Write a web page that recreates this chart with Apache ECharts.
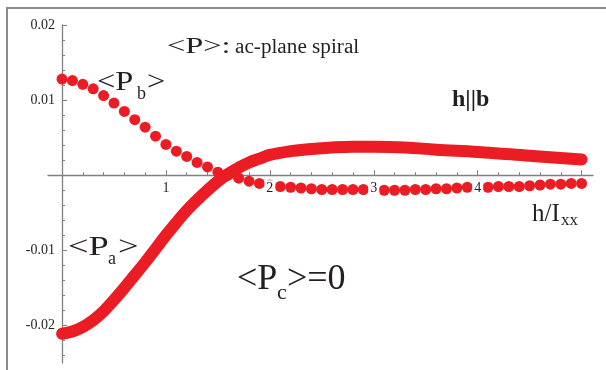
<!DOCTYPE html>
<html>
<head>
<meta charset="utf-8">
<script src="https://cdn.jsdelivr.net/npm/echarts@6/dist/echarts.min.js"></script>
<style>
  html, body { margin: 0; padding: 0; background: #fff; }
  #chart { width: 606px; height: 370px; }
</style>
</head>
<body>
<div id="chart"></div>
<script>
// <P_b> : points (pas de 0.1)
const pbX = [0, 0.1, 0.2, 0.3, 0.4, 0.5, 0.6, 0.7, 0.8, 0.9,
             1.0, 1.1, 1.2, 1.3, 1.4, 1.5, 1.6, 1.7, 1.8, 1.9,
             2.0, 2.1, 2.2, 2.3, 2.4, 2.5, 2.6, 2.7, 2.8, 2.9,
             3.0, 3.1, 3.2, 3.3, 3.4, 3.5, 3.6, 3.7, 3.8, 3.9,
             4.0, 4.1, 4.2, 4.3, 4.4, 4.5, 4.6, 4.7, 4.8, 4.9, 5.0];
const pbY = [0.0128, 0.0126, 0.0121, 0.0115, 0.0106, 0.0096, 0.0085, 0.0074, 0.0064, 0.0052,
             0.0041, 0.0032, 0.0025, 0.0017, 0.0011, 0.0004, 0.0000, -0.0004, -0.0008, -0.0011,
             -0.0013, -0.0015, -0.0016, -0.0017, -0.0018, -0.0019, -0.0019, -0.0019, -0.0019, -0.0019,
             -0.0020, -0.0020, -0.0020, -0.0020, -0.0019, -0.0019, -0.0018, -0.0018, -0.0017, -0.0016,
             -0.0016, -0.0016, -0.0015, -0.0015, -0.0015, -0.0014, -0.0013, -0.0012, -0.0012, -0.0011, -0.0011];

// <P_a> : courbe épaisse
const paX = [0, 0.1, 0.2, 0.3, 0.4, 0.5, 0.6, 0.7, 0.8, 0.9,
             1.0, 1.1, 1.2, 1.3, 1.4, 1.5, 1.6, 1.7, 1.8, 1.9,
             2.0, 2.2, 2.4, 2.6, 2.8, 3.0, 3.3, 3.6, 4.0, 4.5, 5.0];
const paY = [-0.0211, -0.0208, -0.0202, -0.0193, -0.0181, -0.0166, -0.0150, -0.0133, -0.0116, -0.0098,
             -0.0080, -0.0063, -0.0047, -0.0033, -0.0020, -0.0008, 0.0002, 0.0010, 0.0017, 0.0022,
             0.0027, 0.0032, 0.0035, 0.0037, 0.0038, 0.0038, 0.0037, 0.0034, 0.0031, 0.0026, 0.0021];

// graduations
const xMajor = [0, 1, 2, 3, 4, 5];
const xMinor = [0.2, 0.4, 0.6, 0.8, 1.2, 1.4, 1.6, 1.8, 2.2, 2.4, 2.6, 2.8,
                3.2, 3.4, 3.6, 3.8, 4.2, 4.4, 4.6, 4.8];
const xLabels = [1, 2, 3, 4];
const yLabels = [-0.02, -0.01, 0.01, 0.02];
const yMinor = [-0.024, -0.022, -0.018, -0.016, -0.014, -0.012, -0.008, -0.006, -0.004, -0.002,
                0.002, 0.004, 0.006, 0.008, 0.012, 0.014, 0.016, 0.018];

const RED = '#ec1c24';
const AXIS = '#808080';
const SERIF = '"Liberation Serif", "Times New Roman", serif';
const INK = '#231f20';

const X_MIN = -0.135, X_MAX = 5.11, Y_MIN = -0.025, Y_MAX = 0.02;
const G = { left: 48, right: 13, top: 25, bottom: 7 };
const W = 606, H = 370;
// décalage des axes d'étiquettes pour les ramener sur les axes à zéro
const zeroFromLeft = (0 - X_MIN) / (X_MAX - X_MIN) * (W - G.left - G.right);
const zeroFromBottom = (0 - Y_MIN) / (Y_MAX - Y_MIN) * (H - G.top - G.bottom);

const chart = echarts.init(document.getElementById('chart'), null, { renderer: 'canvas' });

function txt(text, x, y, size, opts) {
  opts = opts || {};
  return {
    type: 'text', x: x, y: y, z: 50,
    scaleX: opts.sx || 1,
    style: {
      text: text,
      font: (opts.bold ? 'bold ' : '') + size + 'px ' + SERIF,
      fill: INK,
      align: 'left',
      verticalAlign: 'middle'
    }
  };
}

const baseX = { type: 'value', min: X_MIN, max: X_MAX, position: 'bottom', splitLine: { show: false } };
const baseY = { type: 'value', min: Y_MIN, max: Y_MAX, position: 'left', splitLine: { show: false } };

const option = {
  animation: false,
  backgroundColor: '#fff',
  grid: Object.assign({ containLabel: false, outerBoundsMode: 'none' }, G),
  xAxis: [
    Object.assign({}, baseX, {
      axisLine: { onZero: true, onZeroAxisIndex: 0, lineStyle: { color: AXIS, width: 1.3 } },
      axisTick: { inside: true, length: 5, customValues: xMajor, lineStyle: { color: AXIS } },
      axisLabel: { show: false }
    }),
    Object.assign({}, baseX, {
      axisLine: { show: false, onZero: true, onZeroAxisIndex: 0 },
      axisTick: { inside: true, length: 3, customValues: xMinor, lineStyle: { color: AXIS } },
      axisLabel: { show: false }
    }),
    Object.assign({}, baseX, {
      z: 10,
      offset: -zeroFromBottom,
      axisLine: { show: false, onZero: false },
      axisTick: { show: false },
      axisLabel: {
        customValues: xLabels, margin: 5, fontSize: 14, fontFamily: SERIF, color: INK,
        backgroundColor: '#fff', padding: [1, 2, 3, 2]
      }
    })
  ],
  yAxis: [
    Object.assign({}, baseY, {
      axisLine: { onZero: true, onZeroAxisIndex: 0, lineStyle: { color: AXIS, width: 1.3 } },
      axisTick: { inside: true, length: 5, customValues: yLabels, lineStyle: { color: AXIS } },
      axisLabel: { show: false }
    }),
    Object.assign({}, baseY, {
      axisLine: { show: false, onZero: true, onZeroAxisIndex: 0 },
      axisTick: { inside: true, length: 3, customValues: yMinor, lineStyle: { color: AXIS } },
      axisLabel: { show: false }
    }),
    Object.assign({}, baseY, {
      offset: -zeroFromLeft,
      axisLine: { show: false, onZero: false },
      axisTick: { show: false },
      axisLabel: {
        customValues: yLabels, margin: 7, fontSize: 14, fontFamily: SERIF, color: INK,
        formatter: v => v.toFixed(2)
      }
    })
  ],
  series: [
    {
      name: '<Pa>', type: 'line', xAxisIndex: 0, yAxisIndex: 0,
      data: paX.map((x, i) => [x, paY[i]]),
      smooth: 0.4, showSymbol: false, z: 3,
      lineStyle: { color: RED, width: 12, cap: 'round', join: 'round' }
    },
    {
      name: '<Pb>', type: 'scatter', xAxisIndex: 0, yAxisIndex: 0,
      data: pbX.map((x, i) => [x, pbY[i]]),
      symbol: 'circle', symbolSize: 11, z: 4,
      itemStyle: { color: RED, opacity: 1 }
    }
  ],
  graphic: [
    // cadre de la figure
    { type: 'polyline', z: 50, shape: { points: [[7, 370], [7, 8], [606, 8]] },
      style: { stroke: '#8c8c8c', lineWidth: 2, fill: null } },
    txt('<P>:', 167, 47, 24, { sx: 1.35 }),
    txt('ac-plane spiral', 235, 48, 20, { sx: 1.06 }),
    txt('<P', 97, 83, 27, { sx: 1.2 }),
    txt('b', 137, 94, 18),
    txt('>', 147, 83, 27, { sx: 1.2 }),
    txt('<P', 68, 248, 28, { sx: 1.3 }),
    txt('a', 108, 259, 18),
    txt('>', 118, 248, 28, { sx: 1.3 }),
    txt('<P', 237, 280, 36),
    txt('c', 277, 293, 22),
    txt('>=0', 287, 280, 36),
    txt('h||b', 452, 100, 24, { bold: true }),
    txt('h/I', 532, 214, 25),
    txt('xx', 561, 221, 17)
  ]
};

chart.setOption(option);
</script>
</body>
</html>
